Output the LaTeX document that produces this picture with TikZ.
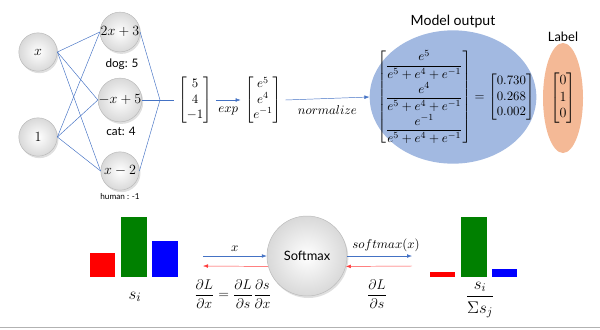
\documentclass[tikz,border=0pt]{standalone}
\usepackage{amsmath,amssymb}
\usepackage{fontspec}
\setsansfont{Lato}
\usetikzlibrary{arrows.meta,positioning,shapes.geometric,shadows}
\definecolor{netblue}{RGB}{68,114,196}
\definecolor{outblue}{RGB}{162,185,225}
\definecolor{labelorange}{RGB}{244,185,150}
\definecolor{gradred}{RGB}{255,60,60}
\definecolor{barred}{RGB}{255,0,0}
\definecolor{bargreen}{RGB}{0,128,0}
\definecolor{barblue}{RGB}{0,0,255}
\tikzset{
  neuron/.style={circle,draw=gray!55,inner color=white,outer color=gray!30,minimum size=11.5mm,inner sep=0pt,drop shadow={opacity=0.25,shadow xshift=0.4mm,shadow yshift=-0.6mm}},
  tag/.style={font=\sffamily\fontsize{10}{12}\selectfont},
  fwd/.style={draw=netblue,-{Latex[length=1.5mm,width=1.1mm]}},
  bwd/.style={draw=gradred,-{Latex[length=1.5mm,width=1.1mm]}}
}
\begin{document}
\begin{tikzpicture}[x=0.3mm,y=-0.3mm,every node/.style={font=\fontsize{11}{13}\selectfont}]
  \useasboundingbox (0,0) rectangle (600,329);
  % network
  \node[neuron,font=\fontsize{12}{14}\selectfont] (inx) at (38,52) {$x$};
  \node[neuron,font=\fontsize{12}{14}\selectfont] (inone) at (38,137) {$1$};
  \node[neuron,font=\fontsize{12}{14}\selectfont] (hdog) at (120,32) {$2x+3$};
  \node[neuron,font=\fontsize{12}{14}\selectfont] (hcat) at (120,100) {$-x+5$};
  \node[neuron,font=\fontsize{12}{14}\selectfont] (hhum) at (120,171) {$x-2$};
  \node[tag] (tdog) at (122,64) {dog: 5};
  \node[tag] (tcat) at (121,131) {cat: 4};
  \node[tag,font=\sffamily\fontsize{7}{8}\selectfont] (thum) at (120,197) {human : -1};
  \foreach \i in {inx,inone} \foreach \h in {hdog,hcat,hhum} \draw[netblue] (\i.east) -- (\h.west);
  \coordinate (join) at (160,100);
  \draw[netblue] (hdog.east) -- (join) -- (hhum.east); \draw[netblue] (hcat.east) -- (join);
  % scores
  \node (vec) at (195,100) {$\begin{bmatrix}5\\4\\-1\end{bmatrix}$};
  \node (expvec) at (263,100) {$\begin{bmatrix}e^5\\e^4\\e^{-1}\end{bmatrix}$};
  \draw[netblue] (join) -- (vec.west);
  \draw[fwd] (vec.east) -- node[below=1mm] {$exp$} (expvec.west);
  % model output and label
  \node[ellipse,fill=outblue,minimum width=50mm,minimum height=40mm] (outbox) at (453,97) {};
  \node[tag,font=\sffamily\fontsize{12}{14}\selectfont] (touter) at (453,22) {Model output};
  \node (probs) at (456,97) {$\begin{bmatrix}\dfrac{e^5}{e^5+e^4+e^{-1}}\\[7pt]\dfrac{e^4}{e^5+e^4+e^{-1}}\\[7pt]\dfrac{e^{-1}}{e^5+e^4+e^{-1}}\end{bmatrix}=\begin{bmatrix}0.730\\0.268\\0.002\end{bmatrix}$};
  \draw[fwd] (expvec.east) -- node[below=1mm] {$normalize$} (outbox.west);
  \node[ellipse,fill=labelorange,minimum width=12mm,minimum height=33mm] (labelbox) at (563,98) {};
  \node[tag,font=\sffamily\fontsize{11}{13}\selectfont] (tlabel) at (563,37) {Label};
  \node[font=\fontsize{12}{14}\selectfont] (onehot) at (563,98) {$\begin{bmatrix}0\\1\\0\end{bmatrix}$};
  % softmax forward and backward
  \fill[barred] (90,253) rectangle (115,277);
  \fill[bargreen] (121,217) rectangle (147,277);
  \fill[barblue] (152,241) rectangle (178,277);
  \node[font=\fontsize{15}{17}\selectfont] (si) at (135,297) {$s_i$};
  \node[neuron,minimum size=24mm] (soft) at (307,256) {\sffamily Softmax};
  \coordinate (xin) at (203,256);
  \coordinate (gin) at (203,266);
  \coordinate (yout) at (412,256);
  \coordinate (gout) at (412,266);
  \draw[fwd] (xin) -- node[above] {$x$} (soft.west);
  \draw[bwd] (soft.195) -- (gin);
  \draw[fwd] (soft.east) -- node[above,pos=0.6] {$softmax(x)$} (yout);
  \draw[bwd] (gout) -- (soft.345);
  \node[font=\fontsize{13}{15}\selectfont] (dldx) at (233,294) {$\dfrac{\partial L}{\partial x}=\dfrac{\partial L}{\partial s}\dfrac{\partial s}{\partial x}$};
  \node[font=\fontsize{13}{15}\selectfont] (dlds) at (377,294) {$\dfrac{\partial L}{\partial s}$};
  \fill[barred] (430,272) rectangle (455,277);
  \fill[bargreen] (461,217) rectangle (487,277);
  \fill[barblue] (492,269) rectangle (517,277);
  \node[font=\fontsize{14}{16}\selectfont] (ratio) at (480,300) {$\genfrac{}{}{1.2pt}{0}{s_i}{\Sigma s_j}$};
  \draw[gray!60,line width=0.6pt] (0,327.5) -- (600,327.5);
\end{tikzpicture}
\end{document}
